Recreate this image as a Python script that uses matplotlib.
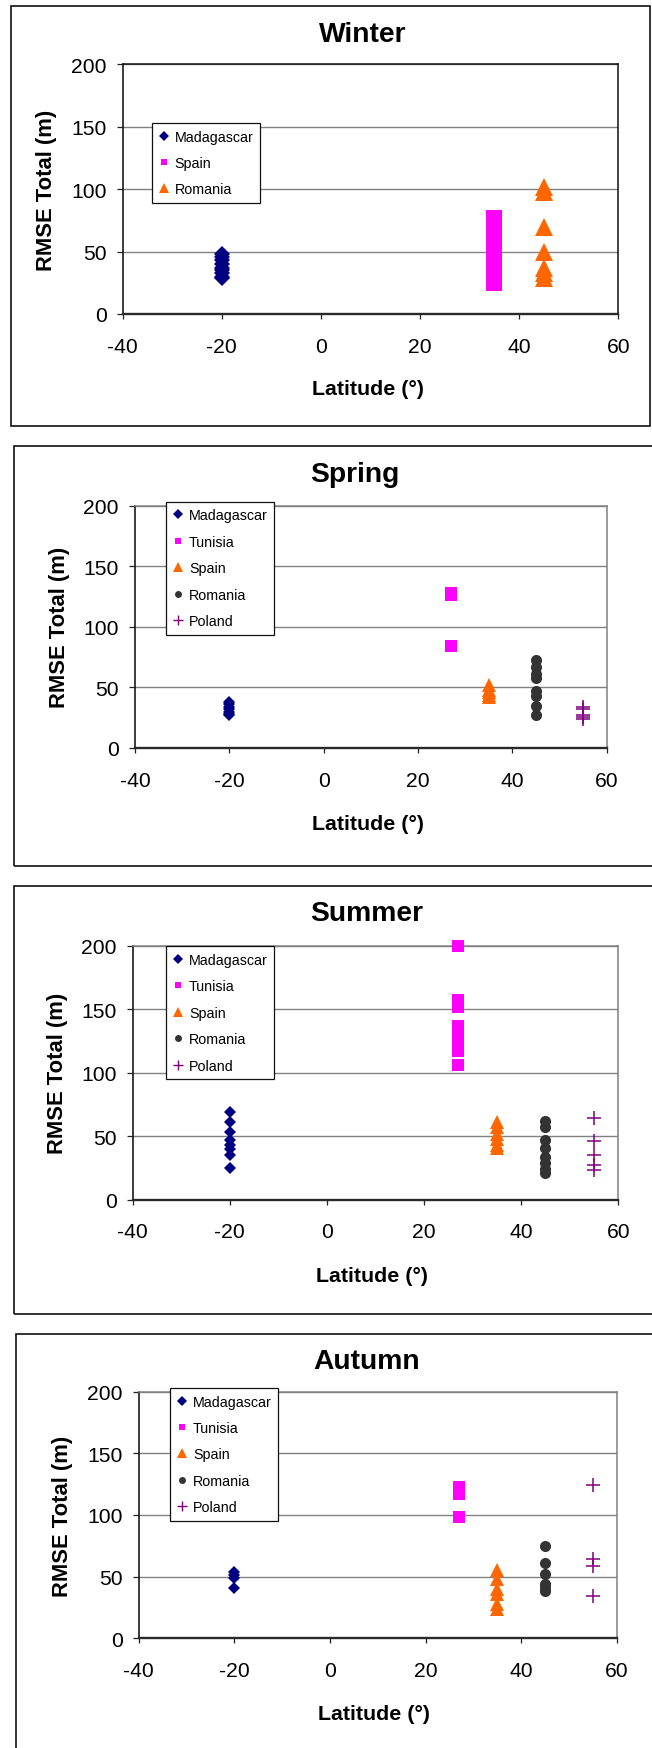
import matplotlib
matplotlib.use("Agg")
import matplotlib.pyplot as plt
import numpy as np
from matplotlib.lines import Line2D
from matplotlib.patches import Rectangle

plt.rcParams['font.family'] = ['Liberation Sans', 'DejaVu Sans']
plt.rcParams['axes.unicode_minus'] = False

# ---------------- data ----------------
lat_madagascar = -20
lat_tunisia = 27
lat_spain = 35
lat_romania = 45
lat_poland = 55

winter_madagascar = [48, 46, 43, 40, 37, 35, 33, 30, 29]
winter_spain = [77, 74, 70, 66, 62, 58, 54, 50, 46, 42, 38, 34, 30, 27, 25]
winter_romania = [102, 98, 70, 50, 37, 33, 29]

spring_madagascar = [38, 36, 34, 32, 30, 28, 27]
spring_tunisia = [128, 126, 84]
spring_spain = [52, 48, 46, 44, 42]
spring_romania = [73, 67, 61, 58, 47, 43, 35, 27]
spring_poland = [34, 32, 27, 26, 24]

summer_madagascar = [69, 61, 53, 47, 43, 40, 35, 25]
summer_tunisia = [200, 157, 152, 137, 133, 129, 125, 121, 117, 106]
summer_spain = [61, 57, 52, 48, 43, 41]
summer_romania = [62, 57, 47, 41, 34, 29, 24, 21]
summer_poland = [64, 46, 35, 27, 23]

autumn_madagascar = [54, 51, 49, 41]
autumn_tunisia = [123, 120, 117, 98]
autumn_spain = [55, 48, 40, 36, 28, 24]
autumn_romania = [75, 61, 52, 44, 41, 38]
autumn_poland = [124, 64, 59, 34]

season_titles = ["Winter", "Spring", "Summer", "Autumn"]
x_ticks = [-40, -20, 0, 20, 40, 60]
y_ticks = [0, 50, 100, 150, 200]
x_label = "Latitude (°)"
y_label = "RMSE Total (m)"

panels = [
    [("Madagascar", lat_madagascar, winter_madagascar),
     ("Spain", lat_spain, winter_spain),
     ("Romania", lat_romania, winter_romania)],
    [("Madagascar", lat_madagascar, spring_madagascar),
     ("Tunisia", lat_tunisia, spring_tunisia),
     ("Spain", lat_spain, spring_spain),
     ("Romania", lat_romania, spring_romania),
     ("Poland", lat_poland, spring_poland)],
    [("Madagascar", lat_madagascar, summer_madagascar),
     ("Tunisia", lat_tunisia, summer_tunisia),
     ("Spain", lat_spain, summer_spain),
     ("Romania", lat_romania, summer_romania),
     ("Poland", lat_poland, summer_poland)],
    [("Madagascar", lat_madagascar, autumn_madagascar),
     ("Tunisia", lat_tunisia, autumn_tunisia),
     ("Spain", lat_spain, autumn_spain),
     ("Romania", lat_romania, autumn_romania),
     ("Poland", lat_poland, autumn_poland)],
]

# ---------------- styling / layout ----------------
W, H, DPI = 652, 1749, 100
fig = plt.figure(figsize=(W / DPI, H / DPI), dpi=DPI)
fig.patch.set_facecolor('white')

def fx(px):
    return px / W

def fy(py):
    return 1 - py / H

# series styles (Excel default order): marker, color, plot size, legend size
series_styles = [
    dict(marker='D', color='#000080', ms=6.2, lms=5.0),
    dict(marker='s', color='#FF00FF', ms=8.6, lms=5.0),
    dict(marker='^', color='#FF6600', ms=10.0, lms=6.5),
    dict(marker='o', color='#333333', ms=8.0, lms=5.0),
    dict(marker='+', color='#800080', ms=9.5, lms=6.5),
]

# pixel layout per panel
layout = [
    dict(frame=(10.7, 6.7, 650, 426.7), axes=(122.7, 65, 618.3, 315),
         title=(363, 41.7), xlab=(368, 395), ylab=(51.7,), leg=(152, 124),
         mscale=1.3, topcolor='#111111'),
    dict(frame=(14.3, 446.7, 700, 866.7), axes=(135, 506.7, 606.7, 749),
         title=(354.5, 481.7), xlab=(368, 830), ylab=(65,), leg=(166.3, 502.7),
         mscale=1.0, topcolor='#808080'),
    dict(frame=(14.3, 886.7, 700, 1315), axes=(132.7, 946.7, 618.3, 1200.7),
         title=(367, 920.7), xlab=(372, 1282.3), ylab=(63.3,), leg=(166.3, 947.3),
         mscale=1.0, topcolor='#808080'),
    dict(frame=(16, 1335, 700, 1800), axes=(138.7, 1392.7, 616.7, 1639.3),
         title=(367, 1369.3), xlab=(374, 1720), ylab=(68.3,), leg=(170.3, 1389),
         mscale=1.0, topcolor='#808080'),
]

for title, series, lay in zip(season_titles, panels, layout):
    x0, y0, x1, y1 = lay['frame']
    fig.add_artist(Rectangle((fx(x0), fy(y1)), (x1 - x0) / W, (y1 - y0) / H,
                             transform=fig.transFigure, fill=False,
                             edgecolor='#111111', linewidth=1.2))
    l, t, r, b = lay['axes']
    ax = fig.add_axes([fx(l), fy(b), (r - l) / W, (b - t) / H])
    ax.set_xlim(-40, 60)
    ax.set_ylim(0, 200)
    ax.set_xticks(x_ticks)
    ax.set_yticks(y_ticks)
    ax.set_xticklabels([str(v) for v in x_ticks])
    ax.set_yticklabels([str(v) for v in y_ticks])
    ax.yaxis.grid(True, color='#808080', linewidth=1.0)
    ax.set_axisbelow(True)
    ax.tick_params(axis='x', direction='out', length=3.6, width=0.9,
                   color='#222222', labelsize=15.2, pad=12.8)
    ax.tick_params(axis='y', direction='out', length=4.3, width=0.9,
                   color='#222222', labelsize=15.2, pad=7.3)
    ax.spines['left'].set_color('#1a1a1a')
    ax.spines['left'].set_linewidth(1.2)
    ax.spines['bottom'].set_color('#2a2a2a')
    ax.spines['bottom'].set_linewidth(1.7)
    for s in ('top', 'right'):
        ax.spines[s].set_color(lay['topcolor'])
        ax.spines[s].set_linewidth(1.1)

    handles = []
    for i, (name, lat, vals) in enumerate(series):
        st = series_styles[i]
        mew = 1.1 if st['marker'] == '+' else 0.0
        ax.plot(np.full(len(vals), lat), vals, linestyle='none',
                marker=st['marker'], markersize=st['ms'] * lay['mscale'],
                color=st['color'], markeredgecolor=st['color'],
                markeredgewidth=mew, clip_on=False, zorder=3)
        handles.append(Line2D([], [], linestyle='none', marker=st['marker'],
                              markersize=st['lms'], color=st['color'],
                              markeredgecolor=st['color'],
                              markeredgewidth=(1.0 if st['marker'] == '+' else 0.0),
                              label=name))

    lx, ly = lay['leg']
    leg = ax.legend(handles=handles, loc='upper left',
                    bbox_to_anchor=(fx(lx), fy(ly)), bbox_transform=fig.transFigure,
                    borderaxespad=0, fontsize=10.3, frameon=True, fancybox=False,
                    edgecolor='#111111', framealpha=1, borderpad=0.46,
                    labelspacing=0.87, handlelength=0.71, handletextpad=0.41)
    leg.get_frame().set_linewidth(0.9)
    leg.set_zorder(10)

    fig.text(fx(lay['title'][0]), fy(lay['title'][1]), title, ha='center',
             va='baseline', fontsize=20.3, fontweight='bold')
    fig.text(fx(lay['xlab'][0]), fy(lay['xlab'][1]), x_label, ha='center',
             va='baseline', fontsize=15.4, fontweight='bold')
    fig.text(fx(lay['ylab'][0]), fy((t + b) / 2), y_label, ha='center',
             va='baseline', rotation=90, rotation_mode='anchor',
             fontsize=15.8, fontweight='bold')

fig.savefig('out.png', dpi=DPI, facecolor='white')
